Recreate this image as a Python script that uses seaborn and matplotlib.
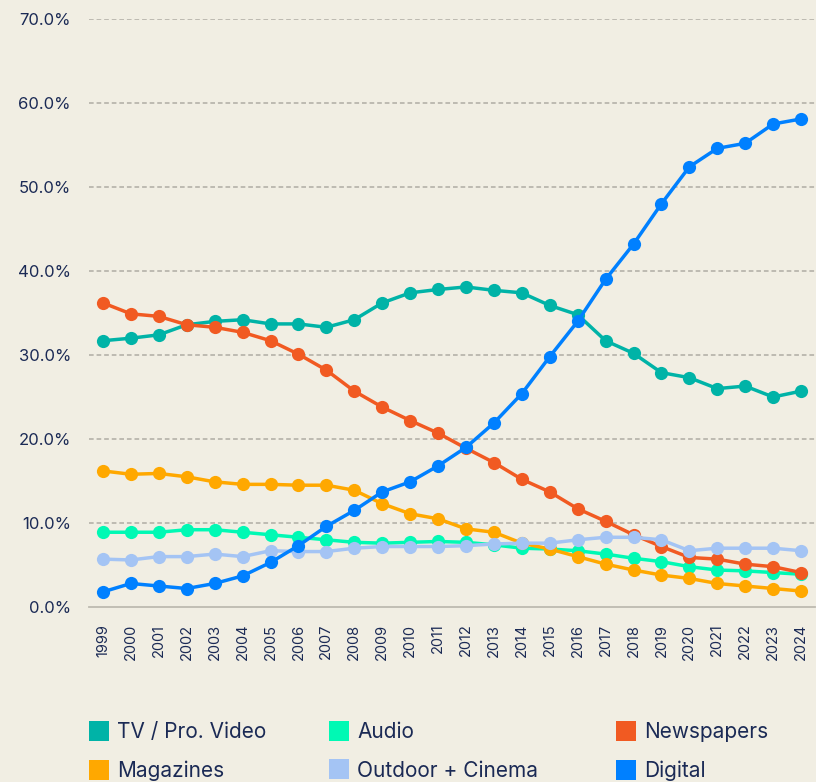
import numpy as np
import pandas as pd
import matplotlib
matplotlib.use("Agg")
import matplotlib.pyplot as plt
from matplotlib.lines import Line2D
from matplotlib.ticker import PercentFormatter, FixedLocator
import seaborn as sns

years = list(range(1999, 2025))
tv = [31.7, 32.0, 32.4, 33.6, 34.0, 34.2, 33.7, 33.7, 33.3, 34.2, 36.2, 37.4, 37.8, 38.1, 37.7, 37.4,
      35.9, 34.8, 31.7, 30.2, 27.9, 27.3, 26.0, 26.3, 25.0, 25.7]
audio = [8.9, 8.9, 8.9, 9.2, 9.2, 8.9, 8.6, 8.3, 8.0, 7.7, 7.6, 7.7, 7.8, 7.7, 7.4, 7.0,
         6.9, 6.7, 6.3, 5.8, 5.4, 4.8, 4.4, 4.3, 4.1, 3.9]
newspapers = [36.2, 34.9, 34.6, 33.6, 33.3, 32.7, 31.7, 30.1, 28.2, 25.7, 23.8, 22.2, 20.7, 18.9, 17.2, 15.2,
              13.7, 11.7, 10.2, 8.6, 7.2, 5.9, 5.7, 5.1, 4.8, 4.1]
magazines = [16.2, 15.8, 15.9, 15.5, 14.9, 14.6, 14.6, 14.5, 14.5, 13.9, 12.3, 11.1, 10.5, 9.3, 8.9, 7.6,
             6.9, 6.0, 5.1, 4.4, 3.8, 3.4, 2.8, 2.5, 2.2, 1.9]
outdoor = [5.7, 5.6, 6.0, 6.0, 6.3, 6.0, 6.7, 6.6, 6.6, 7.0, 7.2, 7.2, 7.2, 7.3, 7.5, 7.6,
           7.6, 8.0, 8.3, 8.3, 8.0, 6.7, 7.0, 7.0, 7.0, 6.7]
digital = [1.8, 2.8, 2.5, 2.2, 2.8, 3.7, 5.3, 7.3, 9.6, 11.5, 13.7, 14.9, 16.8, 19.0, 21.9, 25.4,
           29.8, 34.0, 39.0, 43.2, 48.0, 52.4, 54.6, 55.2, 57.5, 58.1]

series_names = ["TV / Pro. Video", "Audio", "Newspapers", "Magazines", "Outdoor + Cinema", "Digital"]
series_values = [tv, audio, newspapers, magazines, outdoor, digital]
colors = ["#00B3A7", "#00F9B4", "#F15A22", "#FFA800", "#A4C4F4", "#0080FF"]
y_ticks = [0, 10, 20, 30, 40, 50, 60, 70]

df = pd.DataFrame({
    "Year": np.tile(years, len(series_names)),
    "Share": np.concatenate(series_values),
    "Media": np.repeat(series_names, len(years)),
})

BG = "#F1EEE3"
NAVY = "#1B2A55"
GRID = "#BDBAB1"

sns.set_theme(style="white")
plt.rcParams["font.family"] = ["Inter", "DejaVu Sans"]

fig = plt.figure(figsize=(8.16, 7.82), dpi=100, facecolor=BG)
ax = fig.add_axes([89 / 816, 1 - 607 / 782, (815 - 89) / 816, (607 - 19) / 782])
ax.set_facecolor(BG)

sns.lineplot(data=df, x="Year", y="Share", hue="Media", hue_order=series_names,
             palette=dict(zip(series_names, colors)), marker="o", markersize=9.5,
             markeredgewidth=0, linewidth=2.5, legend=False, ax=ax, sort=False, clip_on=False)

ax.set_xlim(years[0] - 0.5, years[-1] + 0.5)
ax.set_ylim(0, 70)
ax.set_yticks(y_ticks)
ax.yaxis.set_major_formatter(PercentFormatter(decimals=1))
for y in y_ticks[1:]:
    ax.axhline(y, color=GRID, linestyle=(0, (2.4, 1.5)), linewidth=1.4, zorder=0.5)

ax.set_xticks(years)
ax.set_xticklabels([str(y) for y in years], rotation=90)
ax.xaxis.set_minor_locator(FixedLocator([y - 0.5 for y in years] + [years[-1] + 0.5]))
ax.tick_params(axis="x", which="major", length=0, pad=12, labelsize=10.5, labelcolor=NAVY)
ax.tick_params(axis="x", which="minor", length=6, width=1.2, color=GRID, direction="out")
ax.tick_params(axis="y", length=0, pad=13, labelsize=12, labelcolor=NAVY)

for s in ["top", "right", "left"]:
    ax.spines[s].set_visible(False)
ax.spines["bottom"].set_color(GRID)
ax.spines["bottom"].set_linewidth(1.3)
ax.set_xlabel("")
ax.set_ylabel("")

# Legend: three columns placed individually
columns = [[0, 3], [1, 4], [2, 5]]
col_x = [89, 329, 616]
for idxs, x in zip(columns, col_x):
    handles = [Line2D([], [], marker="s", linestyle="", markersize=15, color=colors[i], markeredgewidth=0)
               for i in idxs]
    labels = [series_names[i] for i in idxs]
    leg = fig.legend(handles, labels, ncol=1, loc="upper left", bbox_to_anchor=(x / 816, 1 - 722 / 782),
                     frameon=False, fontsize=15, handlelength=1.0, handletextpad=0.35,
                     labelspacing=0.9, borderpad=0, borderaxespad=0)
    for t in leg.get_texts():
        t.set_color(NAVY)

fig.savefig("out.png", dpi=100, facecolor=BG)
